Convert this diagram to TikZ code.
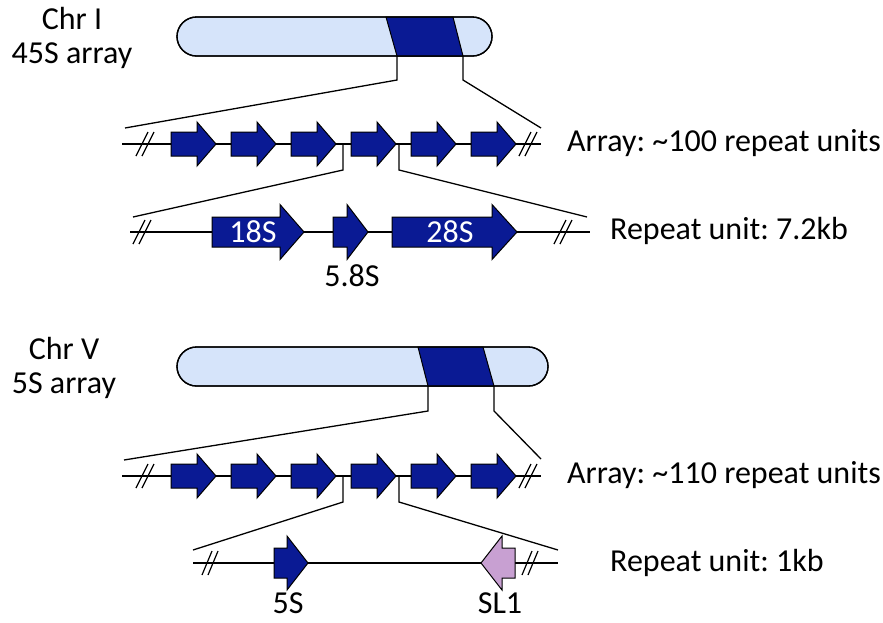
\documentclass[tikz,border=0pt]{standalone}
\usepackage{fontspec}
\setmainfont{Carlito}
\frenchspacing
\definecolor{navy}{RGB}{10,26,148}
\definecolor{chrblue}{RGB}{214,228,250}
\definecolor{slpurple}{RGB}{200,160,210}
\tikzset{
  garrow/.style={fill=navy,draw=black,line width=1pt,line join=miter},
  slarrow/.style={fill=slpurple,draw=black,line width=1pt,line join=miter},
  dnaline/.style={line width=1.3pt},
  zoomline/.style={line width=1.3pt},
  brk/.style={line width=1.2pt},
  chrom/.style={fill=chrblue,draw=black,line width=1.3pt,rounded corners=19.5pt},
  band/.style={fill=navy,draw=black,line width=1pt},
  lbl/.style={font=\fontsize{32}{34}\selectfont,inner sep=0pt},
  glbl/.style={font=\fontsize{32}{34}\selectfont,text=white,inner sep=0pt},
}
% forward gene arrow: style, x0, xhead, xtip, y, body half, head half
\newcommand\genefwd[7]{\filldraw[#1] (#2,#5-#6) -- (#3,#5-#6) -- (#3,#5-#7) -- (#4,#5) -- (#3,#5+#7) -- (#3,#5+#6) -- (#2,#5+#6) -- cycle;}
% break mark: x, y, dx half, dy half
\newcommand\brkmark[4]{\draw[brk] (#1-3-#3,#2+#4) -- (#1-3+#3,#2-#4) (#1+3-#3,#2+#4) -- (#1+3+#3,#2-#4);}
\begin{document}
\begin{tikzpicture}[x=1pt,y=-1pt]
\useasboundingbox (0,0) rectangle (883,622);

% ================= Chr I =================
\node[lbl,align=center] (chrIlbl) at (72,38) {Chr I\\45S array};
\filldraw[chrom] (177,17) rectangle (492,56);
\filldraw[band] (386,17) -- (453,17) -- (463,56) -- (397,56) -- cycle;
\draw[line width=1.3pt,rounded corners=19.5pt] (177,17) rectangle (492,56);
\coordinate (b1l) at (397,56);
\coordinate (b1r) at (463,56);
\coordinate (a1l) at (125,128);
\coordinate (a1r) at (541,128);
\draw[zoomline] (b1l) -- ++(0,24) -- (a1l);
\draw[zoomline] (b1r) -- ++(0,24) -- (a1r);

% array row 1
\coordinate (r1s) at (122,144);
\coordinate (r1e) at (541,144);
\draw[dnaline] (r1s) -- (r1e);
\brkmark{145}{144}{6}{12}
\brkmark{528}{144}{6}{12}
\foreach \x in {171,231,291,351,411,471}{
  \genefwd{garrow}{\x}{\x+26}{\x+45}{144}{12}{22}
}
\coordinate (s1l) at (343,144);
\coordinate (s1r) at (399,144);
\coordinate (u1l) at (133,217);
\coordinate (u1r) at (587,217);
\draw[zoomline] (s1l) -- ++(0,26) -- (u1l);
\draw[zoomline] (s1r) -- ++(0,26) -- (u1r);
\node[lbl,anchor=west] (arr1) at (567,143) {Array: \textasciitilde100 repeat units};

% repeat unit row 1
\draw[dnaline] (130,232) -- (590,232);
\brkmark{142}{232}{6}{12}
\brkmark{563}{232}{6}{12}
\genefwd{garrow}{212}{280}{304}{232}{15}{27.5}
\genefwd{garrow}{333}{347}{368}{232}{15}{27.5}
\genefwd{garrow}{392}{492}{517}{232}{15}{27.5}
\node[glbl] (g18) at (253,232) {18S};
\node[glbl] (g28) at (450,232) {28S};
\node[lbl] (g58) at (352,276) {5.8S};
\node[lbl,anchor=west] (ru1) at (610,231) {Repeat unit: 7.2kb};

% ================= Chr V =================
\node[lbl,align=center] (chrVlbl) at (64,368) {Chr V\\5S array};
\filldraw[chrom] (177,347) rectangle (548,386);
\filldraw[band] (418,347) -- (483,347) -- (494,386) -- (428,386) -- cycle;
\draw[line width=1.3pt,rounded corners=19.5pt] (177,347) rectangle (548,386);
\coordinate (b2l) at (428,386);
\coordinate (b2r) at (494,386);
\coordinate (a2l) at (124,460);
\coordinate (a2r) at (541,459);
\draw[zoomline] (b2l) -- ++(0,25) -- (a2l);
\draw[zoomline] (b2r) -- ++(0,25) -- (a2r);

% array row 2
\draw[dnaline] (122,476) -- (541,476);
\brkmark{145}{476}{6}{12}
\brkmark{528}{476}{6}{12}
\foreach \x in {171,231,291,351,411,471}{
  \genefwd{garrow}{\x}{\x+26}{\x+45}{476}{12}{22}
}
\coordinate (s2l) at (343,476);
\coordinate (s2r) at (399,476);
\coordinate (u2l) at (193,550);
\coordinate (u2r) at (558,550);
\draw[zoomline] (s2l) -- ++(0,26) -- (u2l);
\draw[zoomline] (s2r) -- ++(0,26) -- (u2r);
\node[lbl,anchor=west] (arr2) at (567,475) {Array: \textasciitilde110 repeat units};

% repeat unit row 2
\draw[dnaline] (193,563) -- (558,563);
\brkmark{210}{563}{5}{12}
\brkmark{530}{563}{5}{12}
\genefwd{garrow}{274}{287}{308}{563}{15}{27}
\genefwd{slarrow}{515}{502}{481}{563}{15}{27}
\node[lbl] (g5s) at (288,603) {5S};
\node[lbl] (gsl) at (500,603) {SL1};
\node[lbl,anchor=west] (ru2) at (610,563) {Repeat unit: 1kb};
\end{tikzpicture}
\end{document}
